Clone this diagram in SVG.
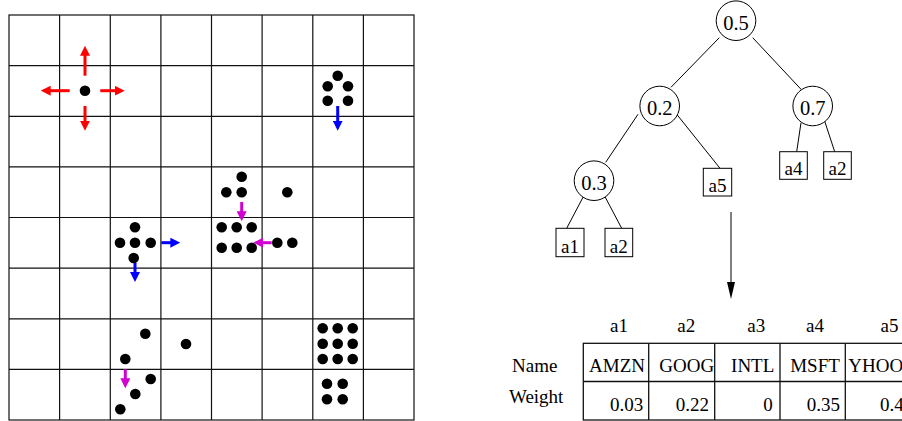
<svg xmlns="http://www.w3.org/2000/svg" width="902" height="421" viewBox="0 0 902 421">
<style>
.grid{stroke:#111;stroke-width:1.2;fill:none}
.dot{fill:#000}
.red{stroke:#ff0000;stroke-width:3;fill:none}
.blue{stroke:#0000ff;stroke-width:3;fill:none}
.mag{stroke:#d000d0;stroke-width:3;fill:none}
.edge{stroke:#000;stroke-width:1;fill:none}
.node{stroke:#000;stroke-width:1;fill:#fff}
.tbl{stroke:#111;stroke-width:1.3;fill:none}
text{font-family:"Liberation Serif","Times New Roman",serif;font-size:19px;fill:#000}
.big{font-size:20.5px}
.c{text-anchor:middle}
.r{text-anchor:end}
</style>
<defs>
<marker id="hr" markerUnits="userSpaceOnUse" markerWidth="10" markerHeight="10" refX="2" refY="5" orient="auto"><path d="M0,0 L10,5 L0,10 z" fill="#ff0000"/></marker>
<marker id="hb" markerUnits="userSpaceOnUse" markerWidth="10" markerHeight="10" refX="2" refY="5" orient="auto"><path d="M0,0 L10,5 L0,10 z" fill="#0000ff"/></marker>
<marker id="hm" markerUnits="userSpaceOnUse" markerWidth="10" markerHeight="10" refX="2" refY="5" orient="auto"><path d="M0,0 L10,5 L0,10 z" fill="#d000d0"/></marker>
<marker id="hk" markerUnits="userSpaceOnUse" markerWidth="17" markerHeight="8" refX="2" refY="4" orient="auto"><path d="M0,0 L17,4 L0,8 z" fill="#000"/></marker>
</defs>
<g id="grid">
<rect class="grid" x="9" y="15" width="405" height="405"/>
<path class="grid" d="M59.6,15V420M110.3,15V420M160.9,15V420M211.5,15V420M262.1,15V420M312.8,15V420M363.4,15V420M9,65.6H414M9,116.3H414M9,166.9H414M9,217.5H414M9,268.1H414M9,318.8H414M9,369.4H414"/>
</g>
<g id="dots">
<circle class="dot" cx="85" cy="90.7" r="5.3"/>
<circle class="dot" cx="337.7" cy="75.7" r="5.3"/>
<circle class="dot" cx="327.7" cy="86.3" r="5.3"/>
<circle class="dot" cx="348" cy="86.3" r="5.3"/>
<circle class="dot" cx="327.7" cy="100.7" r="5.3"/>
<circle class="dot" cx="348" cy="100.7" r="5.3"/>
<circle class="dot" cx="241.7" cy="176.7" r="5.3"/>
<circle class="dot" cx="226.3" cy="192.3" r="5.3"/>
<circle class="dot" cx="241.7" cy="192.3" r="5.3"/>
<circle class="dot" cx="287.3" cy="192.3" r="5.3"/>
<circle class="dot" cx="221.7" cy="227.3" r="5.3"/>
<circle class="dot" cx="236.7" cy="227.3" r="5.3"/>
<circle class="dot" cx="251.7" cy="227.3" r="5.3"/>
<circle class="dot" cx="221.7" cy="247.7" r="5.3"/>
<circle class="dot" cx="236.7" cy="247.7" r="5.3"/>
<circle class="dot" cx="251.7" cy="247.7" r="5.3"/>
<circle class="dot" cx="277.3" cy="242.7" r="5.3"/>
<circle class="dot" cx="292.3" cy="242.7" r="5.3"/>
<circle class="dot" cx="135" cy="227.3" r="5.3"/>
<circle class="dot" cx="120" cy="242.7" r="5.3"/>
<circle class="dot" cx="135" cy="242.7" r="5.3"/>
<circle class="dot" cx="150.7" cy="242.7" r="5.3"/>
<circle class="dot" cx="133.7" cy="258" r="5.3"/>
<circle class="dot" cx="145.3" cy="333.7" r="5.3"/>
<circle class="dot" cx="186" cy="344" r="5.3"/>
<circle class="dot" cx="125.3" cy="359" r="5.3"/>
<circle class="dot" cx="150.7" cy="379" r="5.3"/>
<circle class="dot" cx="135.3" cy="394" r="5.3"/>
<circle class="dot" cx="120.3" cy="409.3" r="5.3"/>
<circle class="dot" cx="322.7" cy="328.3" r="5.3"/>
<circle class="dot" cx="337.7" cy="328.3" r="5.3"/>
<circle class="dot" cx="352.7" cy="328.3" r="5.3"/>
<circle class="dot" cx="322.7" cy="343.7" r="5.3"/>
<circle class="dot" cx="337.7" cy="343.7" r="5.3"/>
<circle class="dot" cx="352.7" cy="343.7" r="5.3"/>
<circle class="dot" cx="322.7" cy="359" r="5.3"/>
<circle class="dot" cx="337.7" cy="359" r="5.3"/>
<circle class="dot" cx="352.7" cy="359" r="5.3"/>
<circle class="dot" cx="327" cy="383.7" r="5.3"/>
<circle class="dot" cx="342.7" cy="383.7" r="5.3"/>
<circle class="dot" cx="327" cy="399.3" r="5.3"/>
<circle class="dot" cx="342.7" cy="399.3" r="5.3"/>
</g>
<g id="moves">
<line class="red" x1="85" y1="75.7" x2="85" y2="53.7" marker-end="url(#hr)"/>
<line class="red" x1="69.7" y1="90.7" x2="48.7" y2="90.7" marker-end="url(#hr)"/>
<line class="red" x1="100.3" y1="90.7" x2="116.7" y2="90.7" marker-end="url(#hr)"/>
<line class="red" x1="85" y1="106" x2="85" y2="122.7" marker-end="url(#hr)"/>
<line class="blue" x1="337.7" y1="106" x2="337.7" y2="122.7" marker-end="url(#hb)"/>
<line class="blue" x1="161.3" y1="242.7" x2="172.3" y2="242.7" marker-end="url(#hb)"/>
<line class="blue" x1="135" y1="263" x2="135" y2="274" marker-end="url(#hb)"/>
<line class="mag" x1="241.7" y1="202" x2="241.7" y2="213.3" marker-end="url(#hm)"/>
<line class="mag" x1="271.7" y1="242.7" x2="261.3" y2="242.7" marker-end="url(#hm)"/>
<line class="mag" x1="125.3" y1="369.3" x2="125.3" y2="380.3" marker-end="url(#hm)"/>
</g>
<g id="connectors">
<line class="edge" x1="719.3" y1="37.7" x2="671" y2="87.3"/>
<line class="edge" x1="752.7" y1="37.7" x2="801.7" y2="90"/>
<line class="edge" x1="638" y1="114.3" x2="605.7" y2="162.3"/>
<line class="edge" x1="677.3" y1="115" x2="720" y2="168.3"/>
<line class="edge" x1="801" y1="122.7" x2="796.7" y2="151.7"/>
<line class="edge" x1="824.3" y1="120" x2="834.7" y2="151.7"/>
<line class="edge" x1="583.3" y1="196.7" x2="566.7" y2="228.3"/>
<line class="edge" x1="605" y1="196.7" x2="621.7" y2="228.3"/>
<line class="edge" x1="731" y1="212" x2="731" y2="284" marker-end="url(#hk)"/>
</g>
<g id="n05"><circle class="node" cx="736" cy="20.7" r="19.8"/><text class="c big" x="736" y="29.5">0.5</text></g>
<g id="n02"><circle class="node" cx="659.7" cy="106" r="19.8"/><text class="c big" x="659.7" y="114.8">0.2</text></g>
<g id="n07"><circle class="node" cx="812.7" cy="106" r="19.8"/><text class="c big" x="812.7" y="114.8">0.7</text></g>
<g id="n03"><circle class="node" cx="594" cy="180.7" r="19.8"/><text class="c big" x="594" y="189.5">0.3</text></g>
<g id="a5"><rect class="node" x="703.3" y="168.3" width="28.4" height="27.7"/><text class="c" x="717.5" y="191.8">a5</text></g>
<g id="a4"><rect class="node" x="779.7" y="151.7" width="27.6" height="27.6"/><text class="c" x="793.5" y="175.3">a4</text></g>
<g id="a2r"><rect class="node" x="823.7" y="151.7" width="27.6" height="27.6"/><text class="c" x="837.5" y="175.3">a2</text></g>
<g id="a1l"><rect class="node" x="556" y="228.3" width="28" height="28.4"/><text class="c" x="570" y="252.5">a1</text></g>
<g id="a2l"><rect class="node" x="605" y="228.3" width="27.7" height="28.4"/><text class="c" x="618.8" y="252.5">a2</text></g>
<g id="table">
<rect class="tbl" x="583.3" y="343.3" width="330" height="76.7"/>
<path class="tbl" d="M583.3,381.5H910M648.7,343.3V420M714.7,343.3V420M780,343.3V420M845.3,343.3V420"/>
<text class="c" x="619" y="332">a1</text>
<text class="c" x="686.3" y="332">a2</text>
<text class="c" x="756.3" y="332">a3</text>
<text class="c" x="815" y="332">a4</text>
<text class="c" x="889.5" y="332">a5</text>
<text x="512" y="372">Name</text>
<text x="509" y="403">Weight</text>
<text class="c" x="617" y="372">AMZN</text>
<text class="c" x="686.7" y="372">GOOG</text>
<text class="c" x="752.7" y="372">INTL</text>
<text class="c" x="815" y="372">MSFT</text>
<text x="848.3" y="372">YHOO</text>
<text class="r" x="643.3" y="411">0.03</text>
<text class="r" x="709" y="411">0.22</text>
<text class="r" x="772.7" y="411">0</text>
<text class="r" x="840" y="411">0.35</text>
<text x="880" y="411">0.4</text>
</g>
</svg>
